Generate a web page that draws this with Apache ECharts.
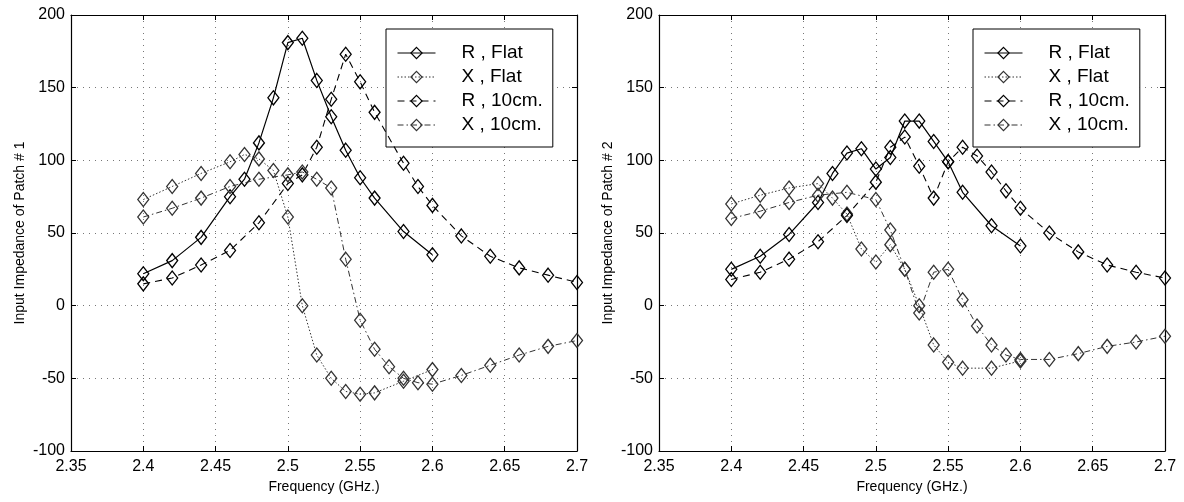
<!DOCTYPE html>
<html>
<head>
<meta charset="utf-8">
<script src="https://cdn.jsdelivr.net/npm/echarts@6/dist/echarts.min.js"></script>
<style>
html,body{margin:0;padding:0;background:#fff;}
#chart{width:1184px;height:502px;}
</style>
</head>
<body>
<div id="chart"></div>
<script>
// ---------- data ----------
const seriesNames = ['R , Flat', 'X , Flat', 'R , 10cm.', 'X , 10cm.'];
const xTickLabels = ['2.35', '2.4', '2.45', '2.5', '2.55', '2.6', '2.65', '2.7'];
const yTickLabels = ['-100', '-50', '0', '50', '100', '150', '200'];
const yAxisTitles = ['Input Impedance of Patch # 1', 'Input Impedance of Patch # 2'];
const xAxisTitle = 'Frequency (GHz.)';

// Patch 1
const p1RFlatF = [2.40, 2.42, 2.44, 2.46, 2.47, 2.48, 2.49, 2.50, 2.51, 2.52, 2.53, 2.54, 2.55, 2.56, 2.58, 2.60];
const p1RFlatV = [22, 31, 47, 75, 87, 112, 143, 181, 184, 155, 130, 107, 88, 74, 51, 35];
const p1XFlatF = [2.40, 2.42, 2.44, 2.46, 2.47, 2.48, 2.49, 2.50, 2.51, 2.52, 2.53, 2.54, 2.55, 2.56, 2.58, 2.60];
const p1XFlatV = [73, 82, 91, 99, 104, 101, 93, 61, 0, -34, -50, -59, -61, -60, -52, -44];
const p1R10F = [2.40, 2.42, 2.44, 2.46, 2.48, 2.50, 2.51, 2.52, 2.53, 2.54, 2.55, 2.56, 2.58, 2.59, 2.60, 2.62, 2.64, 2.66, 2.68, 2.70];
const p1R10V = [15, 19, 28, 38, 57, 84, 90, 109, 142, 173, 154, 133, 98, 82, 69, 48, 34, 26, 21, 16];
const p1X10F = [2.40, 2.42, 2.44, 2.46, 2.48, 2.50, 2.51, 2.52, 2.53, 2.54, 2.55, 2.56, 2.57, 2.58, 2.59, 2.60, 2.62, 2.64, 2.66, 2.68, 2.70];
const p1X10V = [61, 67, 74, 82, 87, 90, 92, 87, 81, 32, -10, -30, -42, -50, -53, -54, -48, -41, -34, -28, -24];

// Patch 2
const p2RFlatF = [2.40, 2.42, 2.44, 2.46, 2.47, 2.48, 2.49, 2.50, 2.51, 2.52, 2.53, 2.54, 2.55, 2.56, 2.58, 2.60];
const p2RFlatV = [25, 34, 49, 71, 91, 105, 108, 94, 102, 127, 127, 113, 99, 78, 55, 41];
const p2XFlatF = [2.40, 2.42, 2.44, 2.46, 2.47, 2.48, 2.49, 2.50, 2.51, 2.52, 2.53, 2.54, 2.55, 2.56, 2.58, 2.60];
const p2XFlatV = [70, 76, 81, 84, 74, 63, 39, 30, 42, 25, 0, -27, -39, -43, -43, -38];
const p2R10F = [2.40, 2.42, 2.44, 2.46, 2.48, 2.50, 2.51, 2.52, 2.53, 2.54, 2.55, 2.56, 2.57, 2.58, 2.59, 2.60, 2.62, 2.64, 2.66, 2.68, 2.70];
const p2R10V = [18, 23, 32, 44, 62, 85, 109, 116, 96, 74, 99, 109, 103, 92, 79, 67, 50, 37, 28, 23, 19];
const p2X10F = [2.40, 2.42, 2.44, 2.46, 2.48, 2.50, 2.51, 2.52, 2.53, 2.54, 2.55, 2.56, 2.57, 2.58, 2.59, 2.60, 2.62, 2.64, 2.66, 2.68, 2.70];
const p2X10V = [60, 65, 71, 76, 78, 73, 52, 25, -5, 23, 25, 4, -14, -27, -34, -37, -37, -33, -28, -25, -21];

// ---------- build ----------
const zip = (f, v) => f.map((x, i) => [x, v[i]]);
const panels = [
  [zip(p1RFlatF, p1RFlatV), zip(p1XFlatF, p1XFlatV), zip(p1R10F, p1R10V), zip(p1X10F, p1X10V)],
  [zip(p2RFlatF, p2RFlatV), zip(p2XFlatF, p2XFlatV), zip(p2R10F, p2R10V), zip(p2X10F, p2X10V)]
];
const styles = [
  {color: '#000', width: 1.2, type: 'solid'},
  {color: '#333', width: 1, type: [1.5, 2]},
  {color: '#000', width: 1.1, type: [7, 5]},
  {color: '#333', width: 1, type: [6, 3, 1.5, 3]}
];
const FONT = 'Liberation Sans, Arial, Helvetica, sans-serif';
const grids = [
  {left: 71, right: 607, top: 15, bottom: 51},
  {left: 659, right: 19, top: 15, bottom: 51}
];
const fmtX = v => {
  const s = (Math.round(v * 100) / 100).toString();
  const hit = xTickLabels.find(t => parseFloat(t) === parseFloat(s));
  return hit || s;
};
const fmtY = v => {
  const hit = yTickLabels.find(t => parseFloat(t) === v);
  return hit || String(v);
};
const xAxes = [], yAxes = [], series = [];
grids.forEach((g, gi) => {
  const baseX = {
    gridIndex: gi, type: 'value', min: 2.35, max: 2.7, interval: 0.05,
    axisLine: {onZero: false, lineStyle: {color: '#000', width: 1.2}},
    axisTick: {inside: true, length: 5, lineStyle: {color: '#000'}},
  };
  xAxes.push(Object.assign({}, baseX, {
    position: 'bottom',
    name: xAxisTitle, nameLocation: 'middle', nameGap: 29,
    nameTextStyle: {fontFamily: FONT, fontSize: 14, color: '#000'},
    axisLabel: {fontFamily: FONT, fontSize: 16, color: '#000', margin: 8, formatter: fmtX},
    splitLine: {show: true, lineStyle: {color: '#777', width: 1, type: [1, 5]}}
  }));
  xAxes.push(Object.assign({}, baseX, {
    position: 'top', axisLabel: {show: false}, splitLine: {show: false}
  }));
  const baseY = {
    gridIndex: gi, type: 'value', min: -100, max: 200, interval: 50,
    axisLine: {show: true, onZero: false, lineStyle: {color: '#000', width: 1.2}},
    axisTick: {show: true, inside: true, length: 5, lineStyle: {color: '#000'}},
  };
  yAxes.push(Object.assign({}, baseY, {
    position: 'left',
    name: yAxisTitles[gi], nameLocation: 'middle', nameGap: 44,
    nameTextStyle: {fontFamily: FONT, fontSize: 14, color: '#000'},
    axisLabel: {fontFamily: FONT, fontSize: 16, color: '#000', margin: 6, formatter: fmtY},
    splitLine: {show: true, lineStyle: {color: '#777', width: 1, type: [1, 5]}}
  }));
  yAxes.push(Object.assign({}, baseY, {
    position: 'right', axisLabel: {show: false}, splitLine: {show: false}
  }));
  panels[gi].forEach((data, si) => {
    series.push({
      name: seriesNames[si], type: 'line',
      xAxisIndex: gi * 2, yAxisIndex: gi * 2,
      data: data,
      symbol: 'diamond', symbolSize: [11, 14], showSymbol: true,
      lineStyle: styles[si],
      itemStyle: {color: 'rgba(255,255,255,0)', borderColor: styles[si].color, borderWidth: 1.3},
      emphasis: {disabled: true},
      z: 3 + si
    });
  });
});
const legendBase = {
  orient: 'vertical', data: seriesNames, top: 29,
  backgroundColor: '#fff', borderColor: '#000', borderWidth: 1,
  padding: [13, 10, 11, 11], itemGap: 2,
  itemWidth: 38, itemHeight: 14,
  lineStyle: {width: 1},
  itemStyle: {borderWidth: 1.2},
  textStyle: {fontFamily: FONT, fontSize: 19, color: '#000', lineHeight: 22, padding: [0, 0, 0, 21]},
  selectedMode: false
};
const legends = [
  Object.assign({}, legendBase, {left: 386}),
  Object.assign({}, legendBase, {left: 973})
];
const chart = echarts.init(document.getElementById('chart'), null, {renderer: 'canvas'});
chart.setOption({
  animation: false,
  backgroundColor: '#fff',
  grid: grids,
  xAxis: xAxes,
  yAxis: yAxes,
  legend: legends,
  series: series
});
</script>
</body>
</html>
